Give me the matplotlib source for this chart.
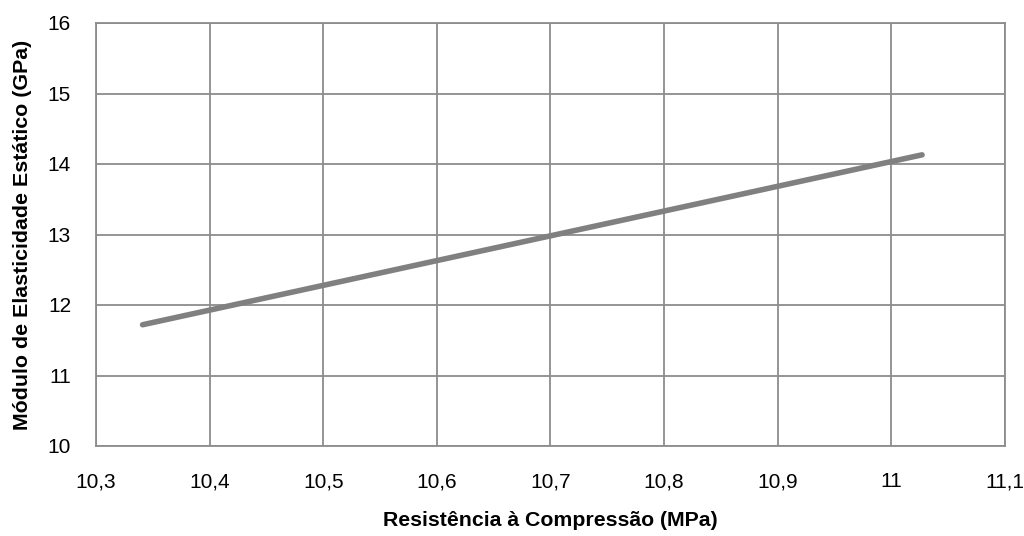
import matplotlib
matplotlib.use("Agg")
import matplotlib.pyplot as plt
from matplotlib.ticker import FuncFormatter

plt.rcParams['font.family'] = ['Liberation Sans', 'DejaVu Sans']

x_vals = [10.341, 11.027]
y_vals = [11.72, 14.13]
x_ticks = [10.3, 10.4, 10.5, 10.6, 10.7, 10.8, 10.9, 11.0, 11.1]
y_ticks = [10, 11, 12, 13, 14, 15, 16]
x_label = "Resistência à Compressão (MPa)"
y_label = "Módulo de Elasticidade Estático (GPa)"

fig = plt.figure(figsize=(10.24, 5.36), dpi=100)
ax = fig.add_axes([96/1024, 1-446/536, (1005-96)/1024, (446-23)/536])

ax.plot(x_vals, y_vals, color='#808080', linewidth=4.0, solid_capstyle='round', zorder=3)

ax.set_xlim(10.3, 11.1)
ax.set_ylim(10, 16)
ax.set_xticks(x_ticks)
ax.set_yticks(y_ticks)

def fmt(v, pos):
    s = ('%.1f' % v).rstrip('0').rstrip('.')
    return s.replace('.', ',')

ax.xaxis.set_major_formatter(FuncFormatter(fmt))
ax.yaxis.set_major_formatter(FuncFormatter(fmt))

ax.grid(True, color='#8c8c8c', linewidth=1.3, zorder=0)
for s in ax.spines.values():
    s.set_color('#8c8c8c')
    s.set_linewidth(1.3)
ax.tick_params(axis='x', length=0, labelsize=15, pad=19)
ax.tick_params(axis='y', length=0, labelsize=15, pad=18)

ax.set_xlabel(x_label, fontsize=15.3, fontweight='bold', labelpad=14)
ax.set_ylabel(y_label, fontsize=15.4, fontweight='bold', labelpad=11)

fig.savefig('out.png', dpi=100)
